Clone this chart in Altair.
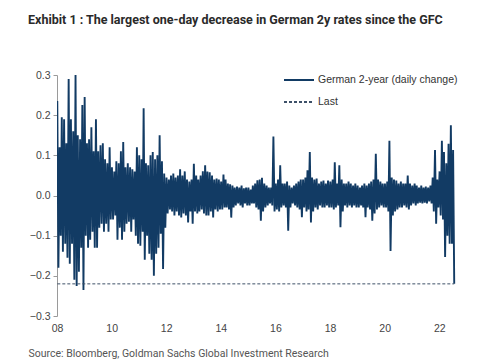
import altair as alt
import pandas as pd

# Monthly extremes of the daily change in German 2y yields
monthly_high = {
    2008: [0.235, 0.12, 0.195, 0.19, 0.13, 0.29, 0.19, 0.16, 0.30, 0.15, 0.14, 0.225],
    2009: [0.245, 0.13, 0.14, 0.17, 0.11, 0.19, 0.11, 0.125, 0.13, 0.09, 0.08, 0.12],
    2010: [0.07, 0.06, 0.085, 0.08, 0.11, 0.133, 0.07, 0.08, 0.07, 0.065, 0.06, 0.12],
    2011: [0.10, 0.09, 0.217, 0.08, 0.075, 0.10, 0.108, 0.09, 0.10, 0.15, 0.085, 0.055],
    2012: [0.045, 0.04, 0.05, 0.055, 0.045, 0.05, 0.065, 0.05, 0.06, 0.04, 0.035, 0.04],
    2013: [0.079, 0.05, 0.04, 0.05, 0.06, 0.075, 0.06, 0.058, 0.05, 0.04, 0.042, 0.04],
    2014: [0.035, 0.052, 0.04, 0.03, 0.028, 0.025, 0.02, 0.022, 0.02, 0.025, 0.018, 0.02],
    2015: [0.02, 0.015, 0.025, 0.03, 0.038, 0.04, 0.044, 0.03, 0.025, 0.02, 0.02, 0.147],
    2016: [0.03, 0.04, 0.075, 0.03, 0.03, 0.035, 0.025, 0.02, 0.025, 0.03, 0.035, 0.04],
    2017: [0.04, 0.045, 0.0625, 0.108, 0.045, 0.04, 0.042, 0.03, 0.035, 0.037, 0.03, 0.037],
    2018: [0.035, 0.04, 0.083, 0.03, 0.075, 0.04, 0.03, 0.03, 0.035, 0.03, 0.025, 0.03],
    2019: [0.025, 0.02, 0.025, 0.03, 0.025, 0.03, 0.035, 0.04, 0.104, 0.04, 0.035, 0.03],
    2020: [0.03, 0.035, 0.136, 0.045, 0.04, 0.037, 0.03, 0.035, 0.03, 0.03, 0.05, 0.03],
    2021: [0.025, 0.03, 0.025, 0.02, 0.025, 0.02, 0.022, 0.02, 0.025, 0.045, 0.113, 0.04],
    2022: [0.06, 0.136, 0.108, 0.08, 0.129, 0.175, 0.113],
}
monthly_low = {
    2008: [-0.18, -0.10, -0.14, -0.12, -0.155, -0.17, -0.12, -0.21, -0.225, -0.19, -0.13, -0.235],
    2009: [-0.10, -0.13, -0.11, -0.09, -0.13, -0.13, -0.08, -0.07, -0.09, -0.07, -0.09, -0.06],
    2010: [-0.06, -0.05, -0.11, -0.08, -0.11, -0.09, -0.07, -0.065, -0.09, -0.06, -0.10, -0.12],
    2011: [-0.125, -0.09, -0.16, -0.10, -0.145, -0.16, -0.20, -0.145, -0.13, -0.095, -0.183, -0.08],
    2012: [-0.045, -0.035, -0.04, -0.05, -0.04, -0.05, -0.055, -0.045, -0.05, -0.067, -0.04, -0.07],
    2013: [-0.04, -0.045, -0.04, -0.035, -0.045, -0.05, -0.05, -0.04, -0.055, -0.035, -0.04, -0.035],
    2014: [-0.035, -0.03, -0.03, -0.035, -0.055, -0.03, -0.025, -0.02, -0.025, -0.03, -0.02, -0.025],
    2015: [-0.025, -0.02, -0.02, -0.03, -0.035, -0.063, -0.04, -0.03, -0.025, -0.02, -0.025, -0.04],
    2016: [-0.035, -0.04, -0.03, -0.025, -0.03, -0.088, -0.03, -0.02, -0.025, -0.03, -0.035, -0.054],
    2017: [-0.03, -0.04, -0.035, -0.067, -0.04, -0.03, -0.035, -0.025, -0.03, -0.03, -0.025, -0.03],
    2018: [-0.03, -0.035, -0.03, -0.025, -0.079, -0.04, -0.025, -0.03, -0.025, -0.03, -0.025, -0.03],
    2019: [-0.03, -0.025, -0.03, -0.054, -0.03, -0.035, -0.063, -0.045, -0.035, -0.03, -0.025, -0.03],
    2020: [-0.03, -0.04, -0.138, -0.05, -0.04, -0.035, -0.03, -0.03, -0.025, -0.03, -0.035, -0.025],
    2021: [-0.02, -0.025, -0.02, -0.018, -0.02, -0.018, -0.02, -0.015, -0.02, -0.04, -0.07, -0.03],
    2022: [-0.05, -0.06, -0.153, -0.10, -0.12, -0.12, -0.22],
}

series_names = ["German 2-year (daily change)", "Last"]
x_ticks = [2008, 2010, 2012, 2014, 2016, 2018, 2020, 2022]
y_ticks = [-0.3, -0.2, -0.1, 0.0, 0.1, 0.2, 0.3]

NAVY = "#123b64"

rows = []
for yr, highs in monthly_high.items():
    lows = monthly_low[yr]
    for m, (h, l) in enumerate(zip(highs, lows), start=1):
        rows.append({"date": f"{yr}-{m:02d}-05", "value": h, "series": series_names[0]})
        rows.append({"date": f"{yr}-{m:02d}-20", "value": l, "series": series_names[0]})
df = pd.DataFrame(rows)

last_df = pd.DataFrame([{
    "start": df["date"].iloc[0],
    "end": df["date"].iloc[-1],
    "value": df["value"].iloc[-1],
    "series": series_names[1],
}])

color_scale = alt.Scale(domain=series_names, range=[NAVY, "#3d5068"])
dash_scale = alt.Scale(domain=series_names, range=[[1, 0], [3, 2]])
x_scale = alt.Scale(domain=[alt.DateTime(year=2008, month=1, date=1),
                            alt.DateTime(year=2022, month=11, date=1)])
y_scale = alt.Scale(domain=[-0.3, 0.3], nice=False, zero=False)

x_axis = alt.Axis(
    values=[alt.DateTime(year=y, month=1, date=1) for y in x_ticks],
    format="%y", domain=False, ticks=False, grid=False,
    labelFont="Liberation Sans", labelFontSize=10.5, labelColor="#444",
    labelPadding=7, labelFlush=False,
    title="Source: Bloomberg, Goldman Sachs Global Investment Research",
    titleFont="Roboto", titleFontSize=10.5, titleFontWeight="normal",
    titleColor="#555", titleAnchor="start", titleAlign="left",
    titleX=-29, titleY=40, titleBaseline="alphabetic",
)
y_axis = alt.Axis(
    values=y_ticks, format=".1f", grid=False,
    domainColor="#9a9a9a", tickColor="#9a9a9a", tickSize=4,
    labelFont="Liberation Sans", labelFontSize=10.5, labelColor="#444",
    labelPadding=3, title=None,
)

line = alt.Chart(df).mark_line(strokeWidth=1.9, clip=True).encode(
    x=alt.X("date:T", scale=x_scale, axis=x_axis),
    y=alt.Y("value:Q", scale=y_scale, axis=y_axis),
    color=alt.Color("series:N", scale=color_scale, legend=alt.Legend(title=None)),
    strokeDash=alt.StrokeDash("series:N", scale=dash_scale, legend=alt.Legend(title=None)),
)

last_rule = alt.Chart(last_df).mark_rule(strokeWidth=1).encode(
    x="start:T", x2="end:T", y="value:Q",
    color=alt.Color("series:N", scale=color_scale, legend=alt.Legend(title=None)),
    strokeDash=alt.StrokeDash("series:N", scale=dash_scale, legend=alt.Legend(title=None)),
)

chart = alt.layer(line, last_rule).properties(
    width=405, height=241,
    autosize="none",
    padding={"left": 49, "top": 67, "right": 15, "bottom": 44},
    title=alt.TitleParams(
        "Exhibit 1 : The largest one-day decrease in German 2y rates since the GFC",
        anchor="start", frame="group", dx=-29, offset=38,
        font="Roboto", fontSize=12.5, fontWeight="bold", color="#2a2a2a",
    ),
).configure_view(stroke=None).configure_legend(
    orient="none", legendX=226, legendY=-11,
    symbolType="stroke", symbolSize=900, symbolStrokeWidth=2,
    labelFont="Liberation Sans", labelFontSize=10.5, labelColor="#333",
    labelOffset=3, rowPadding=-2,
)

chart.save("out.html", embed_options={"renderer": "svg", "actions": False})
